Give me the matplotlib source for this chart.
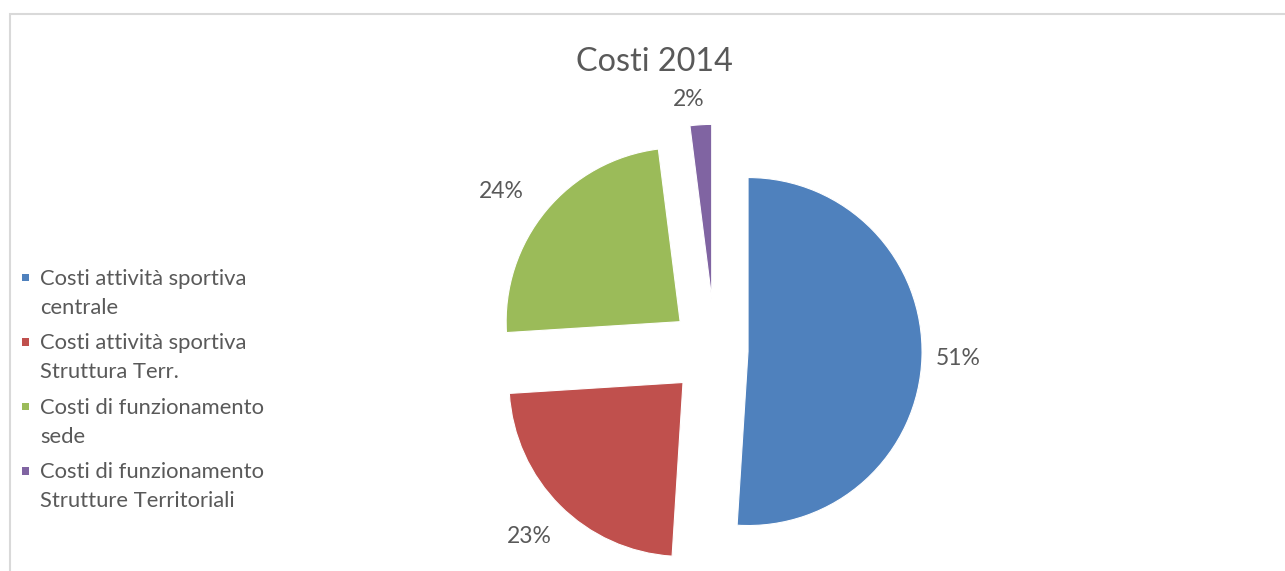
import matplotlib.pyplot as plt
from matplotlib.patches import Patch, Rectangle
from matplotlib.legend_handler import HandlerPatch
import numpy as np

plt.rcParams["font.family"] = ["Lato", "DejaVu Sans"]

# data
categories = [
    "Costi attività sportiva\ncentrale",
    "Costi attività sportiva\nStruttura Terr.",
    "Costi di funzionamento\nsede",
    "Costi di funzionamento\nStrutture Territoriali",
]
shares = [51, 23, 24, 2]
colors = ["#4F81BD", "#C0504D", "#9BBB59", "#8064A2"]
explode = [0.19, 0.26, 0.26, 0.30]
label_dist = [1.21, 1.25, 1.27, 1.15]
label_turn = [0, 0, 3.5, 3]  # degrees, labels sit a bit off the mid angle

TEXT = "#595959"
W, H = 1285, 571
LEG_FS = 15.8
LINE_SPACING = 1.55
LINE_STEP_PT = 29 * 72 / 100  # distance between the two lines of a label


class FirstLineSquare(HandlerPatch):
    # small square next to the first line of a two-line label
    def create_artists(self, legend, orig_handle, xdescent, ydescent,
                       width, height, fontsize, trans):
        s = 0.34 * fontsize
        y = LINE_STEP_PT - 0.24 * fontsize - s / 2
        p = Rectangle((-xdescent, y), s, s,
                      facecolor=orig_handle.get_facecolor(),
                      edgecolor="none", transform=trans)
        return [p]


fig = plt.figure(figsize=(W / 100, H / 100), dpi=100)
ax = fig.add_axes([0, 0, 1, 1])

# pie laid out in pixel units so the radius is easy to match
cx, cy, r = 715, H - 350.5, 174
wedges, texts, autotexts = ax.pie(
    shares,
    explode=[e * r for e in explode],
    colors=colors,
    startangle=90,
    counterclock=False,
    center=(cx, cy),
    radius=r,
    autopct=lambda p: "{:.0f}%".format(p),
    wedgeprops=dict(edgecolor="white", linewidth=0.8),
    textprops=dict(color=TEXT, fontsize=16.5),
)

# move the percentage labels outside each exploded slice
for w, t, d, turn in zip(wedges, autotexts, label_dist, label_turn):
    mid = np.deg2rad((w.theta1 + w.theta2) / 2 + turn)
    x0, y0 = w.center
    t.set_position((x0 + d * r * np.cos(mid), y0 + d * r * np.sin(mid)))
    t.set_ha("center")
    t.set_va("center")

ax.set_xlim(0, W)
ax.set_ylim(0, H)
ax.set_aspect("equal")
ax.axis("off")

# chart area border (only top and left show in the crop)
ax.add_patch(Rectangle((10, -20), W + 20, H - 14 + 20, fill=False,
                       edgecolor="#d9d9d9", linewidth=1.5, clip_on=False))

fig.text(654 / W, 1 - 71 / H, "Costi 2014", ha="center", va="baseline",
         fontsize=23.3, color=TEXT)

handles = [Patch(facecolor=c, edgecolor="none") for c in colors]
leg = fig.legend(
    handles, categories,
    loc="upper left",
    bbox_to_anchor=(22 / W, 1 - 269 / H),
    frameon=False,
    fontsize=LEG_FS,
    handlelength=0.34,
    handleheight=0.7,
    handletextpad=0.48,
    labelspacing=0.71,
    borderpad=0,
    borderaxespad=0,
    handler_map={Patch: FirstLineSquare()},
)
for t in leg.get_texts():
    t.set_color(TEXT)
    t.set_linespacing(LINE_SPACING)

fig.savefig("out.png", dpi=100)
